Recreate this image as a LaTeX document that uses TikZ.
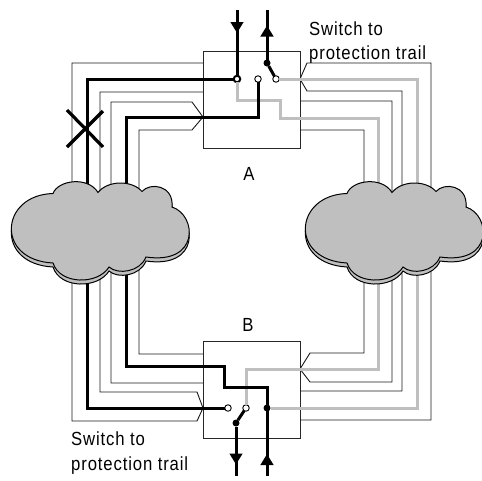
\documentclass[tikz,border=0pt]{standalone}
\usepackage{fontspec}
\setmainfont[LetterSpace=4.5,FakeStretch=0.88]{Liberation Sans}
\usetikzlibrary{decorations.markings, arrows.meta}
\definecolor{cloudgray}{HTML}{BFBFBF}
\newcommand{\cloudpath}{(53,23.5)
  .. controls (58,10) and (88,6) .. (98,22.5)
  .. controls (108,10) and (132,10) .. (142,21.5)
  .. controls (150,12) and (174,15) .. (172,37)
  .. controls (197,45) and (200,95) .. (146,87)
  .. controls (140,102) and (118,105) .. (109,97)
  .. controls (98,115) and (60,115) .. (53,93)
  .. controls (-5,90) and (0,25) .. (53,23.5) -- cycle}

\begin{document}
\begin{tikzpicture}[x=1pt, y=-1pt,
  box/.style={draw=black!85, line width=1pt, minimum size=97pt, inner sep=0pt, outer sep=0pt},
  thinline/.style={draw=black!90, line width=0.9pt},
  thickline/.style={draw=black, line width=3pt},
  grayline/.style={draw=cloudgray, line width=3pt},
  label/.style={font=\fontsize{19}{19}\selectfont, inner sep=0pt, anchor=base west},
  opendot/.style={circle, draw=black, fill=white, line width=0.9pt, minimum size=6.5pt, inner sep=0pt, outer sep=0pt},
  ringdot/.style={circle, draw=black, fill=white, line width=2pt, minimum size=6.5pt, inner sep=0pt, outer sep=0pt},
  soliddot/.style={circle, fill=black, minimum size=7pt, inner sep=0pt, outer sep=0pt},
  cloud/.style={draw=black, line width=1pt, fill=cloudgray},
  headat/.style={postaction={decorate, decoration={markings,
    mark=at position #1 with {\arrow{Triangle[width=12.5pt, length=11pt]}}}}}]
  \useasboundingbox (0,0) rectangle (482,480);

  % switch boxes
  \node[box] (boxA) at (251.5,99.5) {};
  \node[box] (boxB) at (251.5,389.5) {};

  % contacts
  \node[ringdot]  (inA)   at (237,79) {};
  \node[opendot]  (protA) at (258,79) {};
  \node[soliddot] (armA)  at (267,63) {};
  \node[opendot]  (outA)  at (276,79) {};
  \node[opendot]  (protB) at (228,408) {};
  \node[opendot]  (outB)  at (246,408) {};
  \node[soliddot] (armB)  at (236,423) {};
  \node[soliddot] (inB)   at (267,408) {};

  % fibres on the left
  \draw[thinline] (203,63) -- (72,63) -- (72,421) -- (197,421) -- (203,408);
  \draw[thinline] (203,92) -- (100,92) -- (100,392) -- (197,392) -- (203,408);
  \draw[thinline] (203,117) -- (192,102) -- (111,102) -- (111,383) -- (203,383);
  \draw[thinline] (203,117) -- (192,130) -- (139,130) -- (139,354) -- (203,354);

  % fibres on the right
  \draw[thinline] (300,79) -- (307,63) -- (431,63) -- (431,420) -- (300,420);
  \draw[thinline] (300,79) -- (307,91) -- (402,91) -- (402,391) -- (300,391);
  \draw[thinline] (300,101) -- (392,101) -- (392,382) -- (310,382) -- (300,369);
  \draw[thinline] (300,130) -- (364,130) -- (364,353) -- (310,353) -- (300,369);

  % protection trails
  \draw[grayline] (inA) -- (237,100) -- (280,100) -- (280,118) -- (378,118) -- (378,369) -- (246,369) -- (outB);
  \draw[grayline] (outA) -- (417,79) -- (417,408) -- (inB);

  % working trails
  \draw[thickline] (inA) -- (87,79) -- (87,408) -- (protB);
  \draw[thickline, headat=22pt] (267,476) -- (267,387) -- (224,387) -- (224,366) -- (126,366) -- (126,117) -- (258,117) -- (protA);
  \draw[thickline, headat=23pt] (237,10) -- (inA);
  \draw[thickline, headat=34pt] (armA) -- (267,10);
  \draw[thickline] (armA) -- (outA);
  \draw[thickline, headat=38pt] (armB) -- (236,476);
  \draw[thickline] (armB) -- (outB);

  % clouds
  \foreach \dx in {0,294} {
    \draw[cloud, shift={(\dx,174)}] \cloudpath;
    \draw[cloud, shift={(\dx,170)}] \cloudpath;
  }

  % failure
  \draw[thickline, line width=3.2pt] (67,110) -- (103,147);
  \draw[thickline, line width=3.2pt] (103,111) -- (67,147);

  \node[label] (noteA1) at (309,35) {Switch to};
  \node[label] (noteA2) at (309,59) {protection trail};
  \node[label] (noteB1) at (71,445) {Switch to};
  \node[label] (noteB2) at (71,470) {protection trail};
  \node[label, anchor=base] (nameA) at (249,180) {A};
  \node[label, anchor=base] (nameB) at (248,331) {B};
\end{tikzpicture}
\end{document}
